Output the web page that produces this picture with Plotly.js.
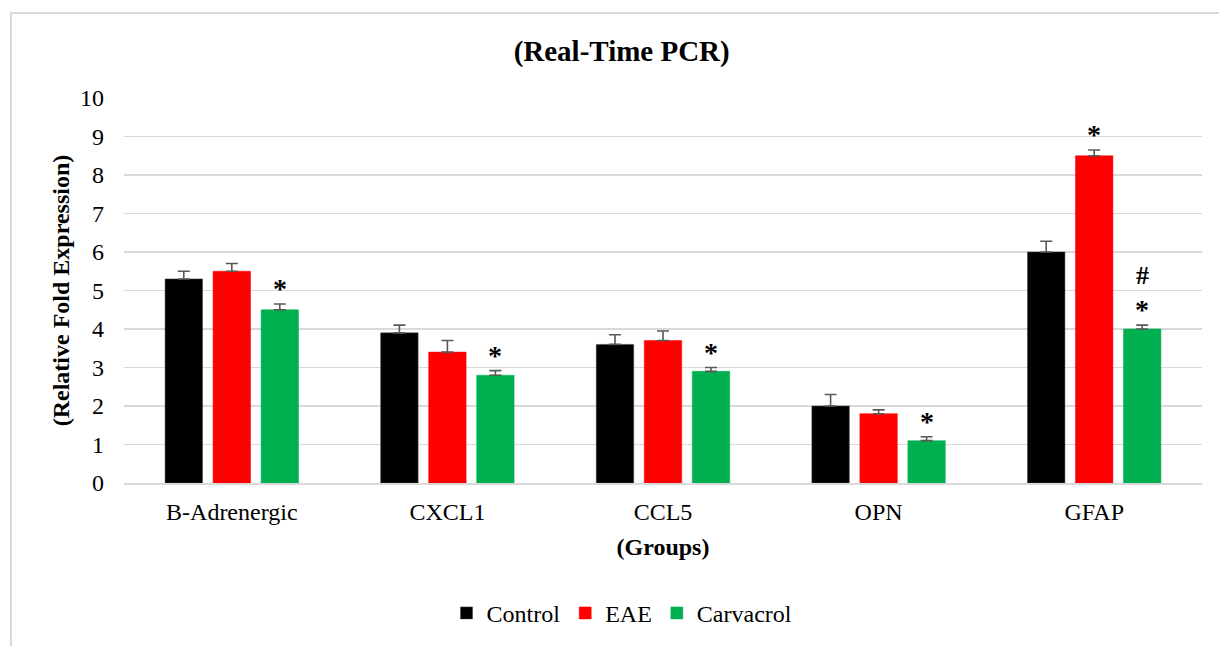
<!DOCTYPE html>
<html>
<head>
<meta charset="utf-8">
<script src="https://cdn.plot.ly/plotly-3.0.1.min.js"></script>
<style>
html,body{margin:0;padding:0;background:#fff;overflow:hidden;width:1219px;height:646px;}
#frame{position:absolute;left:10px;top:12px;width:1240px;height:700px;border:2px solid #d9d9d9;box-sizing:border-box;}
#chart{position:absolute;left:0;top:0;width:1219px;height:646px;}
</style>
</head>
<body>
<div id="frame"></div>
<div id="chart"></div>
<script>
const categories = ["B-Adrenergic", "CXCL1", "CCL5", "OPN", "GFAP"];
const seriesNames = ["Control", "EAE", "Carvacrol"];
const seriesColors = ["#000000", "#ff0000", "#00b050"];
const controlVals = [5.3, 3.9, 3.6, 2.0, 6.0];
const controlErr  = [0.2, 0.2, 0.25, 0.3, 0.28];
const eaeVals     = [5.5, 3.4, 3.7, 1.8, 8.5];
const eaeErr      = [0.2, 0.3, 0.25, 0.1, 0.15];
const carvVals    = [4.5, 2.8, 2.9, 1.1, 4.0];
const carvErr     = [0.15, 0.12, 0.1, 0.1, 0.1];
// significance marks: [seriesIndex, categoryIndex, label]
const sigMarks = [
  [2, 0, "*"], [2, 1, "*"], [2, 2, "*"], [2, 3, "*"],
  [1, 4, "*"], [2, 4, "*"], [2, 4, "#"]
];

const vals = [controlVals, eaeVals, carvVals];
const errs = [controlErr, eaeErr, carvErr];
const FONT = "'Liberation Serif', 'Times New Roman', serif";

const traces = seriesNames.map((n, i) => ({
  type: "bar",
  name: n,
  x: categories,
  y: vals[i],
  marker: {color: seriesColors[i], line: {color: i === 0 ? "#404040" : seriesColors[i], width: 0.5}},
  error_y: {type: "data", symmetric: false, array: errs[i], arrayminus: errs[i].map(() => 0),
            visible: true, color: "#595959", thickness: 1.6, width: 6},
  hoverinfo: "none"
}));

const slotShift = [-48, 0, 48];
const annotations = sigMarks.map(([s, c, lab]) => {
  const top = vals[s][c] + errs[s][c];
  return {
    x: categories[c], y: top, xref: "x", yref: "y",
    xshift: slotShift[s], yshift: lab === "#" ? 33 : -2,
    yanchor: "bottom", showarrow: false, text: "<b>" + lab + "</b>",
    font: {family: FONT, size: lab === "#" ? 26 : 28, color: "#000"}
  };
});

const layout = {
  width: 1219, height: 646,
  paper_bgcolor: "rgba(0,0,0,0)", plot_bgcolor: "rgba(0,0,0,0)",
  margin: {l: 124, r: 17, t: 98, b: 162},
  barmode: "group", bargap: 0.332, bargroupgap: 0.22,
  font: {family: FONT, color: "#000"},
  title: {text: "<b>(Real-Time PCR)</b>", font: {family: FONT, size: 29, color: "#000"},
          xref: "container", x: 0.51, xanchor: "center", yref: "container", y: 0.922, yanchor: "middle"},
  xaxis: {
    showgrid: false, showline: true, linecolor: "#d9d9d9", linewidth: 1.5, ticks: "",
    tickfont: {family: FONT, size: 24, color: "#000"}, ticklabelstandoff: 7,
    title: {text: "<b>(Groups)</b>", font: {family: FONT, size: 24, color: "#000"}, standoff: 14}
  },
  yaxis: {
    range: [0, 10], dtick: 1, showgrid: true, gridcolor: "#d9d9d9", gridwidth: 1.5,
    zeroline: false, showline: false, ticks: "",
    tickfont: {family: FONT, size: 24, color: "#000"}, ticklen: 0, ticklabelstandoff: 19,
    title: {text: "<b>(Relative Fold Expression)</b>", font: {family: FONT, size: 24, color: "#000"}, standoff: 3}
  },
  showlegend: true,
  legend: {orientation: "h", x: 0.462, xanchor: "center", y: -0.335, yanchor: "middle",
           font: {family: FONT, size: 24, color: "#000"}, itemwidth: 30, traceorder: "normal"},
  annotations: annotations
};

Plotly.newPlot("chart", traces, layout, {displayModeBar: false, staticPlot: true});
</script>
</body>
</html>
